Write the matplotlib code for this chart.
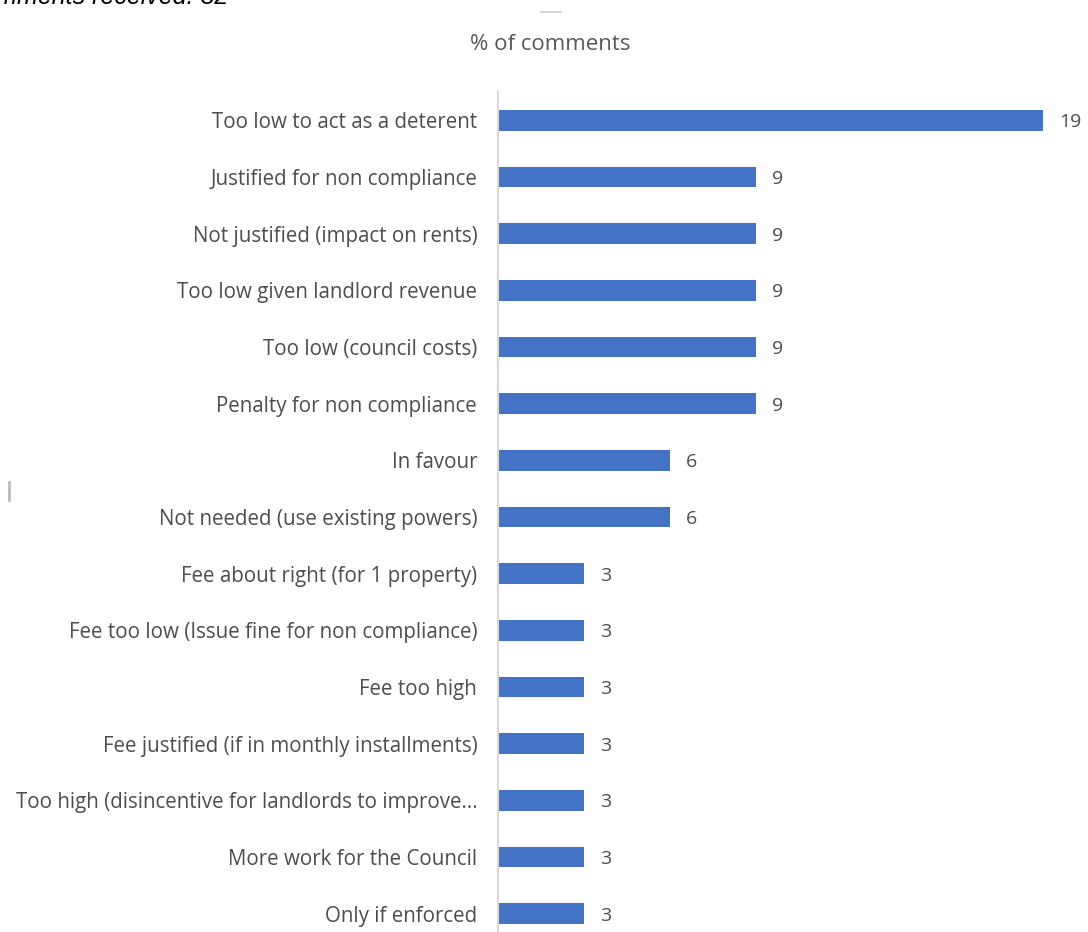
import matplotlib.pyplot as plt
from matplotlib.lines import Line2D

# datos del grafico
categorias = ['Too low to act as a deterent',
              'Justified for non compliance',
              'Not justified (impact on rents)',
              'Too low given landlord revenue',
              'Too low (council costs)',
              'Penalty for non compliance',
              'In favour',
              'Not needed (use existing powers)',
              'Fee about right (for 1 property)',
              'Fee too low (Issue fine for non compliance)',
              'Fee too high',
              'Fee justified (if in monthly installments)',
              'Too high (disincentive for landlords to improve...',
              'More work for the Council',
              'Only if enforced']
valores = [19, 9, 9, 9, 9, 9, 6, 6, 3, 3, 3, 3, 3, 3, 3]

azul = '#4472C4'
gris_texto = '#4d4d4d'

fig = plt.figure(figsize=(10.88, 9.32), dpi=100)
ax = fig.add_axes([498/1088, -10/932, 545/1088, 850/932])

pos = list(range(len(categorias)))
ax.barh(pos, valores, height=0.36, color=azul)
ax.set_ylim(len(categorias) - 0.5, -0.5)
ax.set_xlim(0, 19)

for p, v in zip(pos, valores):
    ax.text(v + 0.55, p, str(v), va='center_baseline', ha='left', fontsize=14,
            color=gris_texto, family='Open Sans', clip_on=False)

ax.set_yticks(pos)
ax.set_yticklabels(categorias, fontsize=14.8, color=gris_texto, family='Open Sans')
for lbl in ax.get_yticklabels():
    lbl.set_verticalalignment('center_baseline')
ax.tick_params(axis='y', length=0, pad=15)
ax.set_xticks([])
for s in ['top', 'right', 'bottom']:
    ax.spines[s].set_visible(False)
ax.spines['left'].set_color('#d9d9d9')
ax.spines['left'].set_linewidth(1.5)

fig.text(550/1088, 1 - 44/932, '% of comments', ha='center', va='center',
         fontsize=16, color='#595959', family='Open Sans')

# texto cortado arriba
fig.text(228/1088, 1 - 4/932, 'Number of comments received: 32', ha='right',
         va='baseline', fontsize=18, style='italic', color='black',
         family='Liberation Sans')

# marcas sueltas
fig.add_artist(Line2D([9/1088, 9/1088], [1 - 482/932, 1 - 500/932],
                      color='#bbbbbb', lw=2))
fig.add_artist(Line2D([541/1088, 561/1088], [1 - 12/932, 1 - 12/932],
                      color='#cccccc', lw=1.2))

fig.savefig('out.png', dpi=100)
